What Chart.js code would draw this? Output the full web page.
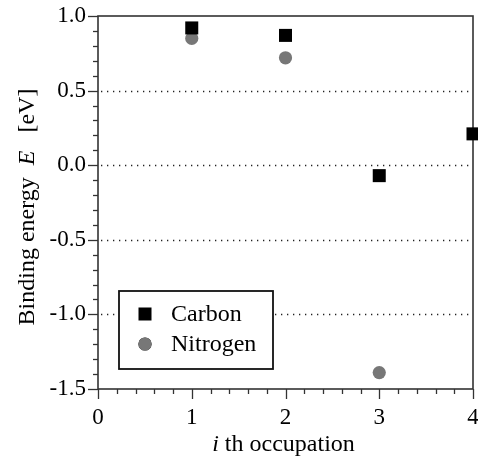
<!DOCTYPE html>
<html><head><meta charset="utf-8">
<script src="https://cdn.jsdelivr.net/npm/chart.js@4/dist/chart.umd.min.js"></script>
<style>html,body{margin:0;padding:0;background:#fff}#wrap{width:478px;height:456px}</style>
</head><body><div id="wrap"><canvas id="c" width="478" height="456"></canvas></div>
<script>
const occupations = [1, 2, 3, 4];
const carbonEnergy = [0.92, 0.87, -0.07, 0.21];
const nitrogenEnergy = [0.85, 0.72, -1.39];
const seriesNames = ['Carbon', 'Nitrogen'];
const yMajorTicks = [1.0, 0.5, 0.0, -0.5, -1.0, -1.5];
const yGridValues = [0.5, 0.0, -0.5, -1.0];
const xMajorTicks = [0, 1, 2, 3, 4];

const SERIF = '"Liberation Serif", "DejaVu Serif", serif';
const CA = {left: 98, right: 473, top: 16, bottom: 389};

function pts(xs, ys) { return ys.map((y, i) => ({x: xs[i], y})); }
function noPad(s) { s.paddingTop = 0; s.paddingBottom = 0; s.paddingLeft = 0; s.paddingRight = 0; }

const decor = {
  id: 'decor',
  beforeDatasetsDraw(chart) {
    const ctx = chart.ctx, xs = chart.scales.x, ys = chart.scales.y, a = chart.chartArea;
    ctx.save();
    ctx.strokeStyle = '#222'; ctx.lineWidth = 1.3; ctx.setLineDash([1.3, 4.7]);
    yGridValues.forEach(v => {
      const py = Math.round(ys.getPixelForValue(v)) + 0.5;
      ctx.beginPath(); ctx.moveTo(a.left + 3, py); ctx.lineTo(a.right - 1, py); ctx.stroke();
    });
    ctx.setLineDash([]);
    ctx.strokeStyle = '#333'; ctx.lineWidth = 1.6;
    ctx.strokeRect(a.left, a.top, a.right - a.left, a.bottom - a.top);
    ctx.lineWidth = 1.3; ctx.strokeStyle = '#333';
    for (let k = -15; k <= 10; k++) {
      const v = k / 10, py = Math.round(ys.getPixelForValue(v)) + 0.5;
      const len = (k % 5 === 0) ? 10 : 5;
      ctx.beginPath(); ctx.moveTo(a.left - len, py); ctx.lineTo(a.left, py); ctx.stroke();
    }
    for (let k = 0; k <= 20; k++) {
      const v = k / 5, px = Math.round(xs.getPixelForValue(v)) + 0.5;
      const len = (k % 5 === 0) ? 10 : 5;
      ctx.beginPath(); ctx.moveTo(px, a.bottom); ctx.lineTo(px, a.bottom + len); ctx.stroke();
    }
    ctx.restore();
  },
  afterDraw(chart) {
    const ctx = chart.ctx, a = chart.chartArea;
    ctx.save();
    ctx.fillStyle = '#000';
    ctx.textBaseline = 'alphabetic';
    drawParts(ctx, [['italic', 'i'], ['normal', ' th occupation']], (a.left + a.right) / 2 - 2, 451, 24);
    ctx.save();
    ctx.translate(34, 207);
    ctx.rotate(-Math.PI / 2);
    drawParts(ctx, [['normal', 'Binding energy  '], ['italic', 'E'], ['normal', '   [eV]']], 0, 0, 24);
    ctx.restore();
    const lx = 119, ly = 291, lw = 154, lh = 78;
    ctx.fillStyle = '#fff';
    ctx.fillRect(lx, ly, lw, lh);
    ctx.strokeStyle = '#111'; ctx.lineWidth = 1.8;
    ctx.strokeRect(lx, ly, lw, lh);
    const rows = [314, 344];
    chart.data.datasets.forEach((d, i) => {
      Chart.helpers.drawPoint(ctx, {pointStyle: d.pointStyle, radius: d.pointRadius, rotation: 0, borderWidth: 0}, 145, rows[i]);
      ctx.fillStyle = d.backgroundColor; ctx.fill();
      ctx.fillStyle = '#000';
      ctx.font = '24px ' + SERIF;
      ctx.textBaseline = 'middle';
      ctx.textAlign = 'left';
      ctx.fillText(d.label, 171, rows[i] + 1);
    });
    ctx.restore();
  }
};

function drawParts(ctx, parts, cx, y, size) {
  let total = 0;
  parts.forEach(p => { ctx.font = p[0] + ' ' + size + 'px ' + SERIF; total += ctx.measureText(p[1]).width; });
  let x = cx - total / 2;
  ctx.textAlign = 'left';
  parts.forEach(p => { ctx.font = p[0] + ' ' + size + 'px ' + SERIF; ctx.fillText(p[1], x, y); x += ctx.measureText(p[1]).width; });
}

new Chart(document.getElementById('c'), {
  type: 'scatter',
  data: {
    datasets: [
      {label: seriesNames[0], data: pts(occupations, carbonEnergy), pointStyle: 'rect', pointRadius: 9.2, pointHoverRadius: 9.2,
       backgroundColor: '#000', borderWidth: 0, clip: false},
      {label: seriesNames[1], data: pts(occupations, nitrogenEnergy), pointStyle: 'circle', pointRadius: 6.6, pointHoverRadius: 6.6,
       backgroundColor: '#777', borderWidth: 0, clip: false}
    ]
  },
  options: {
    responsive: false, animation: false, devicePixelRatio: 1,
    layout: {autoPadding: false, padding: {left: 0, top: CA.top, right: 478 - CA.right, bottom: 0}},
    plugins: {legend: {display: false}, tooltip: {enabled: false}},
    scales: {
      x: {
        type: 'linear', min: 0, max: 4,
        afterFit(s) { s.height = 456 - CA.bottom; noPad(s); },
        afterBuildTicks(s) { s.ticks = xMajorTicks.map(v => ({value: v})); },
        grid: {display: false, drawTicks: false}, border: {display: false},
        ticks: {color: '#000', padding: 15, font: {family: SERIF, size: 23}, callback: v => String(v), maxRotation: 0, autoSkip: false}
      },
      y: {
        type: 'linear', min: -1.5, max: 1.0,
        afterFit(s) { s.width = CA.left; noPad(s); },
        afterBuildTicks(s) { s.ticks = yMajorTicks.map(v => ({value: v})); },
        grid: {display: false, drawTicks: false}, border: {display: false},
        ticks: {color: '#000', padding: 12, font: {family: SERIF, size: 23}, callback: v => v.toFixed(1), autoSkip: false}
      }
    }
  },
  plugins: [decor]
});
</script></body></html>
